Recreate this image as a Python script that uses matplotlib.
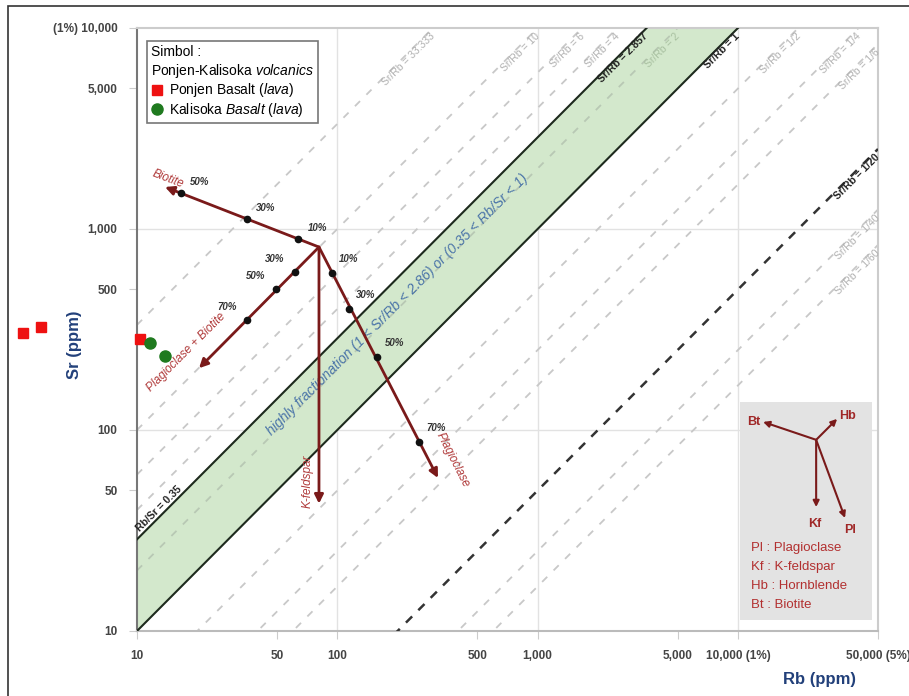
import matplotlib.pyplot as plt
from matplotlib.patches import Rectangle
import numpy as np

# samples (Rb, Sr in ppm)
ponjen_rb = [2.7, 3.3, 10.3]
ponjen_sr = [304, 325, 284]
kalisoka_rb = [11.6, 13.8]
kalisoka_sr = [271, 233]

# Sr/Rb reference lines
ratio_values = [33.333, 10, 6, 4, 2, 0.5, 0.25, 1 / 6, 1 / 40, 1 / 60]
ratio_labels = ["Sr/Rb = 33.333", "Sr/Rb = 10", "Sr/Rb = 6", "Sr/Rb = 4", "Sr/Rb = 2",
                "Sr/Rb = 1/2", "Sr/Rb = 1/4", "Sr/Rb = 1/6", "Sr/Rb = 1/40", "Sr/Rb = 1/60"]
band_upper = 2.857
band_lower = 1.0
dark_ratio = 1 / 20

# fractionation vectors
start = (81, 813)
biotite_tip = (13.8, 1618)
biotite_rb = [63.7, 35.4, 16.6]
biotite_sr = [892, 1122, 1510]
biotite_pct = ["10%", "30%", "50%"]
plbt_tip = (20.4, 203)
plbt_rb = [61.5, 49.4, 35.4]
plbt_sr = [611, 503, 352]
plbt_pct = ["30%", "50%", "70%"]
kf_tip = (81, 43)
plag_tip = (318, 57.7)
plag_rb = [94.1, 114, 158, 256]
plag_sr = [604, 400, 231, 87.1]
plag_pct = ["10%", "30%", "50%", "70%"]

x_ticks = [10, 50, 100, 500, 1000, 5000, 10000, 50000]
x_ticklabels = ["10", "50", "100", "500", "1,000", "5,000", "10,000 (1%)", "50,000 (5%)"]
y_ticks = [10, 50, 100, 500, 1000, 5000, 10000]
y_ticklabels = ["10", "50", "100", "500", "1,000", "5,000", "(1%) 10,000"]

# inset key (axes fraction of the inset)
key_centre = (0.576, 0.826)
key_tips = {"Bt": (0.174, 0.908), "Hb": (0.735, 0.922), "Kf": (0.576, 0.518), "Pl": (0.795, 0.468)}
key_label_pos = {"Bt": (0.10, 0.908), "Hb": (0.81, 0.935), "Kf": (0.568, 0.44), "Pl": (0.83, 0.415)}
key_text = ["Pl : Plagioclase", "Kf : K-feldspar", "Hb : Hornblende", "Bt : Biotite"]

plt.rcParams["font.family"] = ["Liberation Sans", "DejaVu Sans"]
plt.rcParams["mathtext.fontset"] = "custom"
plt.rcParams["mathtext.rm"] = "Liberation Sans"
plt.rcParams["mathtext.it"] = "Liberation Sans:italic"

XMIN, XMAX, YMIN, YMAX = 10, 50000, 10, 10000
vec_col = "#7a1a1a"
lab_col = "#b03a3a"

fig = plt.figure(figsize=(9.09, 6.96), dpi=100)
ax = fig.add_axes([0.1507, 0.0934, 0.8152, 0.8664])
ax.set_xscale("log")
ax.set_yscale("log")
ax.set_xlim(XMIN, XMAX)
ax.set_ylim(YMIN, YMAX)

xs = np.array([XMIN, XMAX])


def exit_point(c):
    x = YMAX / c
    if x > XMAX:
        return XMAX, c * XMAX
    return x, YMAX


# green band
xx = np.logspace(1, np.log10(XMAX), 200)
ax.fill_between(xx, band_lower * xx, band_upper * xx, color="#d3e8cc", zorder=1)

for c, lab in zip(ratio_values, ratio_labels):
    col = "#b8c8b4" if c == 2 else "#c8c8c8"
    ax.plot(xs, c * xs, color=col, lw=1.3, ls=(0, (4, 5)), zorder=2)
    ex, ey = exit_point(c)
    ax.annotate(lab, (ex, ey), xytext=(-3, -3), textcoords="offset pixels",
                ha="right", va="top", rotation=45, rotation_mode="anchor",
                fontsize=7.5, color="#b0b0b0" if c != 2 else "#a8c0a0")

for c, lab in [(band_upper, "Sr/Rb = 2.857"), (band_lower, "Sr/Rb = 1")]:
    ax.plot(xs, c * xs, color="#1e2a1e", lw=1.5, zorder=3)
    ex, ey = exit_point(c)
    ax.annotate(lab, (ex, ey), xytext=(-4, -3), textcoords="offset pixels",
                ha="right", va="top", rotation=45, rotation_mode="anchor",
                fontsize=7.5, fontweight="bold", color="#222222")

ax.annotate("Rb/Sr = 0.35", (10.3, band_upper * 10.3), xytext=(2, 3), textcoords="offset pixels",
            ha="left", va="bottom", rotation=45, rotation_mode="anchor",
            fontsize=7.5, fontweight="bold", color="#222222")

ax.plot(xs, dark_ratio * xs, color="#333333", lw=1.8, ls=(0, (3.5, 3.5)), zorder=3)
ex, ey = exit_point(dark_ratio)
ax.annotate("Sr/Rb = 1/20", (ex, ey), xytext=(-3, -3), textcoords="offset pixels",
            ha="right", va="top", rotation=45, rotation_mode="anchor",
            fontsize=7.5, fontweight="bold", color="#222222")

ax.text(200, 420, "highly fractionation (1 < Sr/Rb < 2.86) or (0.35 < Rb/Sr < 1)",
        rotation=45, ha="center", va="center", fontsize=10, style="italic",
        color="#4a74a8", zorder=4)

# grid
for v in [100, 1000, 10000]:
    ax.axvline(v, color="#e2e2e2", lw=1, zorder=0)
for v in [100, 1000]:
    ax.axhline(v, color="#e2e2e2", lw=1, zorder=0)

# vectors
arrow_kw = dict(arrowstyle="-|>", color=vec_col, lw=2, mutation_scale=13, shrinkA=0, shrinkB=0)
for tip in [biotite_tip, plbt_tip, kf_tip, plag_tip]:
    ax.annotate("", xy=tip, xytext=start, arrowprops=arrow_kw, zorder=5)

for rb, sr, pct, off in [(biotite_rb, biotite_sr, biotite_pct, (19, 11)),
                         (plbt_rb, plbt_sr, plbt_pct, (-20, 13)),
                         (plag_rb, plag_sr, plag_pct, (17, 14))]:
    ax.plot(rb, sr, "o", color="#111111", ms=4.5, zorder=6)
    for x, y, p in zip(rb, sr, pct):
        ax.annotate(p, (x, y), xytext=off, textcoords="offset pixels", ha="center", va="center",
                    fontsize=7, style="italic", fontweight="bold", color="#333333")

ax.annotate("Biotite", biotite_tip, xytext=(-14, 8), textcoords="offset pixels",
            ha="left", va="bottom", rotation=-21, rotation_mode="anchor",
            fontsize=8.5, style="italic", color=lab_col)
ax.annotate("Plagioclase + Biotite", plbt_tip, xytext=(-46, -26), textcoords="offset pixels",
            ha="left", va="bottom", rotation=45, rotation_mode="anchor",
            fontsize=8.5, style="italic", color=lab_col)
ax.annotate("K-feldspar", kf_tip, xytext=(-11, 22), textcoords="offset pixels",
            ha="center", va="center", rotation=90,
            fontsize=8.5, style="italic", color=lab_col)
ax.annotate("Plagioclase", plag_tip, xytext=(-4, 42), textcoords="offset pixels",
            ha="left", va="bottom", rotation=-63, rotation_mode="anchor",
            fontsize=8.5, style="italic", color=lab_col)

# samples
ax.plot(ponjen_rb, ponjen_sr, "s", color="#ee1111", ms=7, clip_on=False, zorder=8,
        label="Ponjen Basalt ($\\it{lava}$)")
ax.plot(kalisoka_rb, kalisoka_sr, "o", color="#1f7a1f", ms=8, clip_on=False, zorder=8,
        label="Kalisoka $\\it{Basalt}$ ($\\it{lava}$)")

leg = ax.legend(loc="upper left", bbox_to_anchor=(0.0135, 0.978), borderaxespad=0,
                title="Simbol :\nPonjen-Kalisoka $\\it{volcanics}$", alignment="left",
                fontsize=10, title_fontsize=10, fancybox=False, edgecolor="#777777",
                handlelength=0.8, handletextpad=0.5, borderpad=0.3, labelspacing=0.1,
                framealpha=1)
leg.get_frame().set_linewidth(1.2)
leg.set_zorder(10)

# ticks and spines
ax.minorticks_off()
ax.set_xticks(x_ticks)
ax.set_xticklabels(x_ticklabels)
ax.set_yticks(y_ticks)
ax.set_yticklabels(y_ticklabels)
ax.tick_params(axis="both", length=6, color="#cccccc", labelsize=8.5, labelcolor="#444444", pad=8)
for lbl in ax.get_xticklabels() + ax.get_yticklabels():
    lbl.set_fontweight("bold")
for side, col in [("left", "#777777"), ("bottom", "#bbbbbb"), ("top", "#cccccc"), ("right", "#cccccc")]:
    ax.spines[side].set_color(col)
    ax.spines[side].set_linewidth(1.5)

fig.text(0.0825, 0.504, "Sr (ppm)", rotation=90, ha="center", va="center",
         fontsize=12, fontweight="bold", color="#22407a")
fig.text(0.902, 0.023, "Rb (ppm)", ha="center", va="center",
         fontsize=12, fontweight="bold", color="#22407a")

# key inset
kax = ax.inset_axes([0.814, 0.018, 0.178, 0.362])
kax.set_facecolor("#e3e3e3")
kax.set_xlim(0, 1)
kax.set_ylim(0, 1)
kax.set_xticks([])
kax.set_yticks([])
for s in kax.spines.values():
    s.set_visible(False)
key_kw = dict(arrowstyle="-|>", color=vec_col, lw=1.5, mutation_scale=9, shrinkA=0, shrinkB=0)
for name, tip in key_tips.items():
    kax.annotate("", xy=tip, xytext=key_centre, arrowprops=key_kw)
    lx, ly = key_label_pos[name]
    kax.text(lx, ly, name, ha="center", va="center", fontsize=9, color="#a02828", fontweight="bold")
for i, t in enumerate(key_text):
    kax.text(0.08, 0.33 - i * 0.087, t, ha="left", va="center", fontsize=9.5, color="#b23030")

# outer border
fig.patches.append(Rectangle((8 / 909, -0.01), 1.02, 0.991 + 0.01, transform=fig.transFigure,
                             fill=False, edgecolor="#333333", lw=1.2))

fig.savefig("out.png", dpi=100)
